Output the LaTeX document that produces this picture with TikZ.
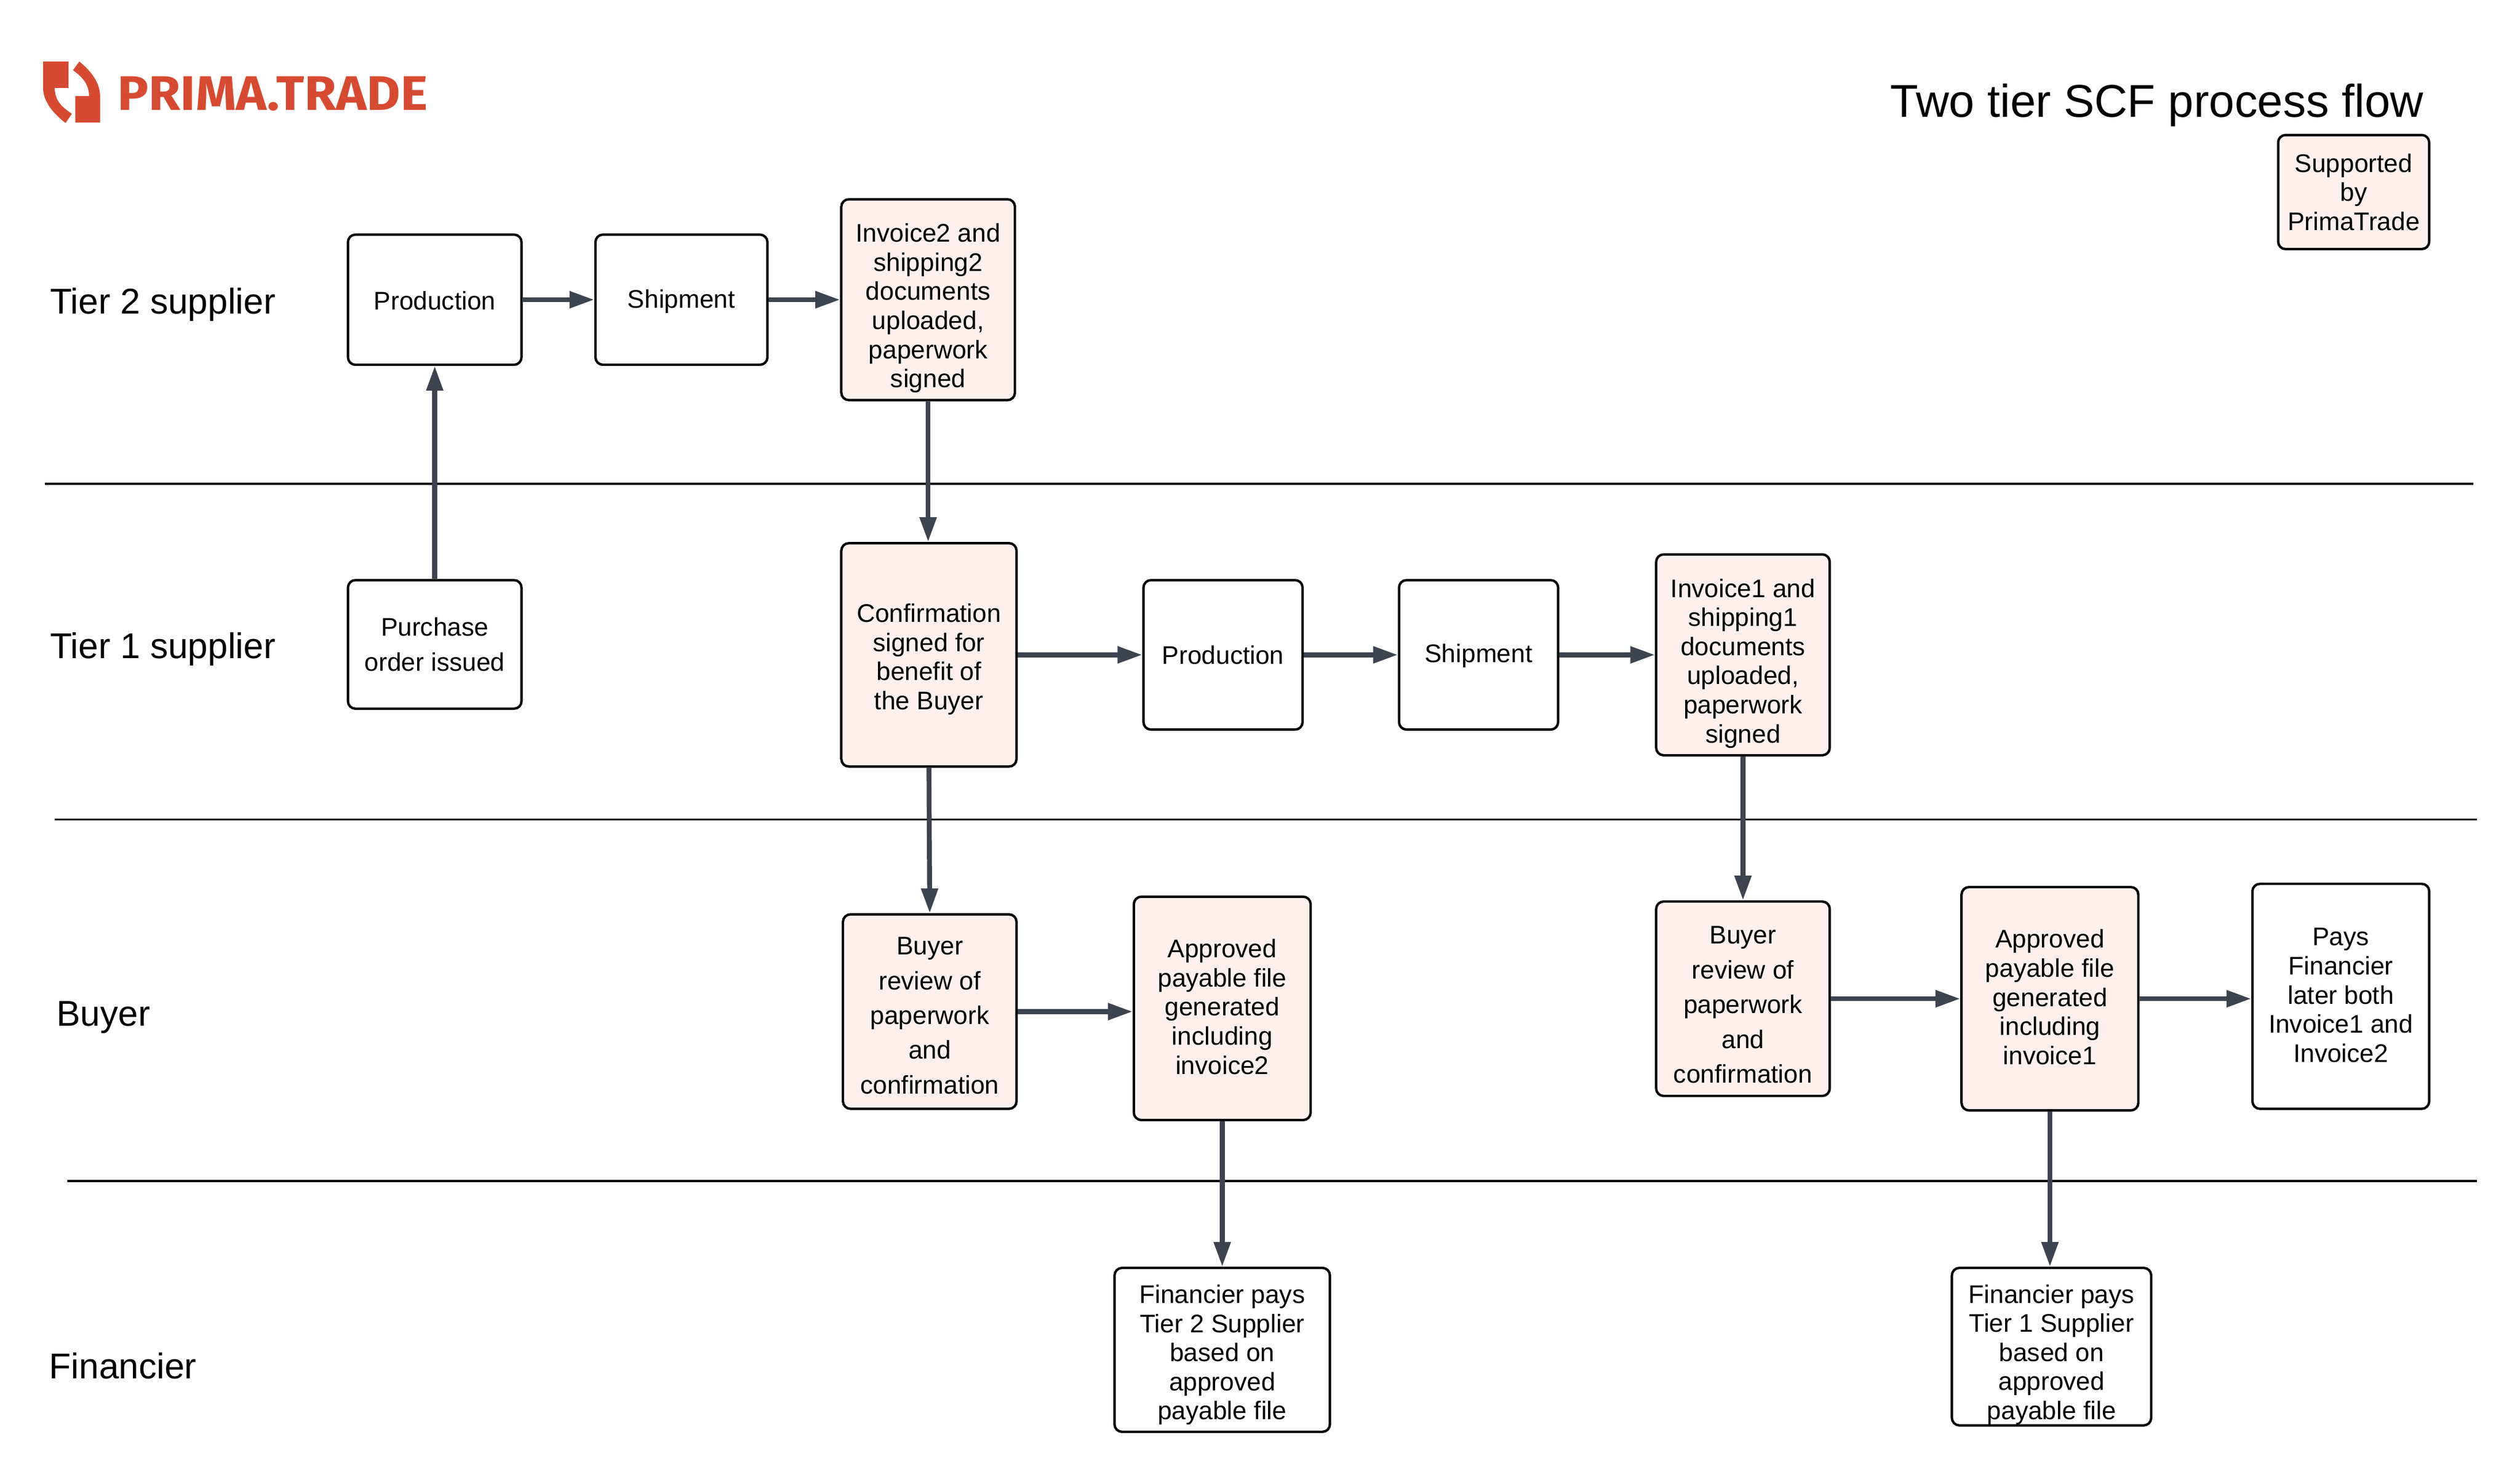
\documentclass[tikz,border=0pt]{standalone}
\usepackage{fontspec}
\setmainfont{Liberation Sans}
\newfontfamily\logofont{Fira Sans}[FakeStretch=1.065]
\usetikzlibrary{arrows.meta}
\definecolor{flowgray}{HTML}{3D4450}
\definecolor{pinkfill}{HTML}{FDF0EF}
\definecolor{logored}{HTML}{D64A32}
\tikzset{
  x=0.027934cm,y=-0.027934cm,
  boxbase/.style={draw=black,line width=1.2pt,rounded corners=0.13cm,inner sep=0pt},
  plain/.style={boxbase,fill=white},
  pink/.style={boxbase,fill=pinkfill},
  boxtext/.style={inner sep=0pt,align=center,font=\fontsize{12.6}{14.4}\selectfont},
  wide/.style={font=\fontsize{12.6}{17.2}\selectfont},
  conn/.style={draw=flowgray,line width=2.4pt,-{Triangle[length=0.43cm,width=0.28cm]}},
  lane/.style={draw=black,line width=1pt},
  lanelabel/.style={anchor=west,inner sep=0pt,font=\fontsize{17.7}{20}\selectfont},
}
% name, x0, x1, y0, y1, box style, text options, text
\newcommand{\bx}[8]{\node[#6,minimum width={(#3-#2)*0.027934cm},minimum height={(#5-#4)*0.027934cm},
  label={[boxtext,#7]center:{#8}}] (#1) at ({(#2+#3)/2+0.5},{(#4+#5)/2}) {};}
\begin{document}
\begin{tikzpicture}
\useasboundingbox (0,0) rectangle (1568,917.55);
\fill[white] (0,0) rectangle (1568,917.55);
% logo
\begin{scope}[x=0.01cm,y=-0.01cm]
\fill[logored] (75,107) -- (119,107) -- (119,153) -- (95,153) .. controls (96,175) and (106,185) .. (125,198) -- (114,214) .. controls (90,195) and (75,175) .. (75,153) -- cycle;
\fill[logored] (174,213) -- (131,213) -- (131,167) -- (155,167) .. controls (154,145) and (144,135) .. (127,122) -- (138,107) .. controls (160,125) and (174,145) .. (174,167) -- cycle;
\end{scope}
\node[anchor=west,inner sep=0pt,text=logored,font=\logofont\bfseries\fontsize{24}{26}\selectfont] (logo) at (73,58.5) {PRIMA.TRADE};
\node[anchor=west,inner sep=0pt,font=\fontsize{22.7}{25}\selectfont] (title) at (1176,65.5) {Two tier SCF process flow};
% lanes
\coordinate (l1a) at (28,301); \coordinate (l1b) at (1539,301);
\coordinate (l2a) at (34,510); \coordinate (l2b) at (1541,510);
\coordinate (l3a) at (42,735); \coordinate (l3b) at (1541,735);
\draw[lane] (l1a) -- (l1b);
\draw[lane] (l2a) -- (l2b);
\draw[lane] (l3a) -- (l3b);
% labels
\node[lanelabel] (t2) at (31,189.5) {Tier 2 supplier};
\node[lanelabel] (t1) at (31,404) {Tier 1 supplier};
\node[lanelabel] (by) at (35,633) {Buyer};
\node[lanelabel] (fi) at (30.5,850) {Financier};
% boxes
\bx{sup}{1417}{1511}{84}{155}{pink}{}{Supported\\by\\PrimaTrade}
\bx{prod2}{216}{324}{146}{227}{plain}{yshift=-0.5pt}{Production}
\bx{ship2}{370}{477}{146}{227}{plain}{yshift=-1pt}{Shipment}
\bx{inv2}{523}{631}{124}{249}{pink}{yshift=-4.2pt}{Invoice2 and\\shipping2\\documents\\uploaded,\\paperwork\\signed}
\bx{po}{216}{324}{361}{441}{plain}{wide,yshift=0pt}{Purchase\\order issued}
\bx{conf}{523}{632}{338}{477}{pink}{yshift=-2.2pt}{Confirmation\\signed for\\benefit of\\the Buyer}
\bx{prod1}{711}{810}{361}{454}{plain}{}{Production}
\bx{ship1}{870}{969}{361}{454}{plain}{yshift=-0.5pt}{Shipment}
\bx{inv1}{1030}{1138}{345}{470}{pink}{yshift=-4.2pt}{Invoice1 and\\shipping1\\documents\\uploaded,\\paperwork\\signed}
\bx{rev2}{524}{632}{569}{690}{pink}{wide,yshift=-2pt}{Buyer\\review of\\paperwork\\and\\confirmation}
\bx{app2}{705}{815}{558}{697}{pink}{yshift=0.8pt}{Approved\\payable file\\generated\\including\\invoice2}
\bx{rev1}{1030}{1138}{561}{682}{pink}{wide,yshift=-3pt}{Buyer\\review of\\paperwork\\and\\confirmation}
\bx{app1}{1220}{1330}{552}{691}{pink}{yshift=0.8pt}{Approved\\payable file\\generated\\including\\invoice1}
\bx{pays}{1401}{1511}{550}{690}{plain}{yshift=0.5pt}{Pays\\Financier\\later both\\Invoice1 and\\Invoice2}
\bx{fin2}{693}{827}{789}{891}{plain}{yshift=-2.5pt}{Financier pays\\Tier 2 Supplier\\based on\\approved\\payable file}
\bx{fin1}{1214}{1338}{789}{887}{plain}{yshift=-4pt}{Financier pays\\Tier 1 Supplier\\based on\\approved\\payable file}
% connectors
\draw[conn] (po.north) -- (prod2.south);
\draw[conn] (prod2.east) -- (ship2.west);
\draw[conn] (ship2.east) -- (inv2.west);
\draw[conn] (inv2.south) -- (conf.north -| inv2.south);
\draw[conn] (conf.east) -- (prod1.west);
\draw[conn] (prod1.east) -- (ship1.west);
\draw[conn] (ship1.east) -- (inv1.west);
\draw[conn] (conf.south) -- (rev2.north);
\draw[conn] (inv1.south) -- (rev1.north);
\draw[conn] (rev2.east) -- (rev2.east -| app2.west);
\draw[conn] (rev1.east) -- (app1.west);
\draw[conn] (app1.east) -- (app1.east -| pays.west);
\draw[conn] (app2.south) -- (fin2.north);
\draw[conn] (app1.south) -- (fin1.north -| app1.south);
\end{tikzpicture}
\end{document}
